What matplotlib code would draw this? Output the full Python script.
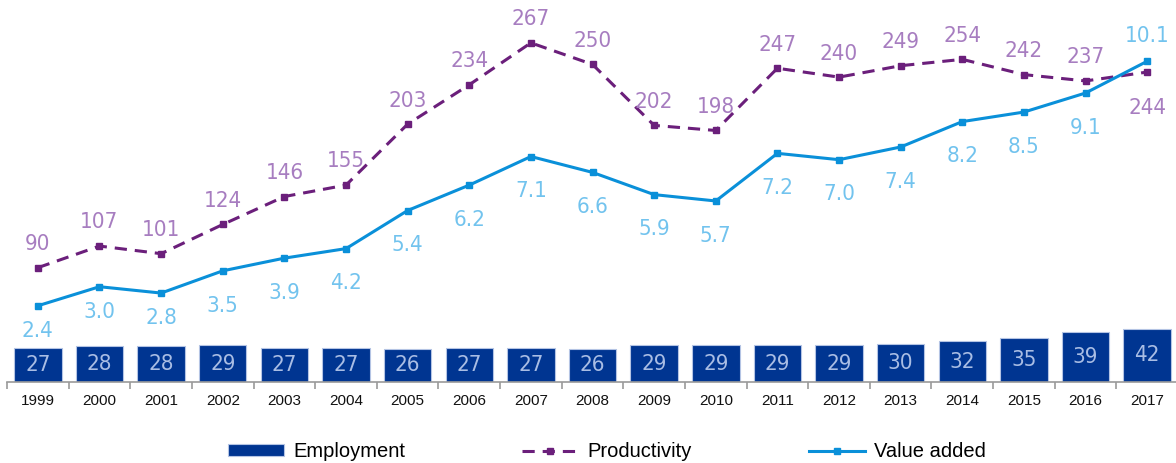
import matplotlib
matplotlib.use("Agg")
import matplotlib.pyplot as plt
import numpy as np

# Employment (bars), productivity (dashed line), value added (solid line, right scale)
years = ["1999", "2000", "2001", "2002", "2003", "2004", "2005", "2006", "2007", "2008",
         "2009", "2010", "2011", "2012", "2013", "2014", "2015", "2016", "2017"]
employment = [27, 28, 28, 29, 27, 27, 26, 27, 27, 26, 29, 29, 29, 29, 30, 32, 35, 39, 42]
productivity = [90, 107, 101, 124, 146, 155, 203, 234, 267, 250, 202, 198, 247, 240, 249,
                254, 242, 237, 244]
value_added = [2.4, 3.0, 2.8, 3.5, 3.9, 4.2, 5.4, 6.2, 7.1, 6.6, 5.9, 5.7, 7.2, 7.0, 7.4,
               8.2, 8.5, 9.1, 10.1]

plt.rcParams["font.family"] = ["Liberation Sans", "DejaVu Sans"]
lbl = dict(family="DejaVu Sans", fontstretch="condensed", fontsize=16)

fig = plt.figure(figsize=(11.76, 4.63), dpi=100)
ax = fig.add_axes([0.006, 0.175, 0.9957, 0.823])
ax2 = ax.twinx()

x = np.arange(len(years))

bars = ax.bar(x, employment, width=0.77, color="#003591", edgecolor="#b4c4e4",
              linewidth=0.8, zorder=2)
ax.bar_label(bars, labels=[str(v) for v in employment], label_type="center",
             color="#a9bde4", **lbl)

prod_line, = ax.plot(x, productivity, color="#6b1f7b", linewidth=2.2,
                     linestyle=(0, (4, 2.6)), marker="s", markersize=5, zorder=3)
for i, v in enumerate(productivity):
    dy = -26 if i == len(productivity) - 1 else 17
    ax.annotate(str(v), (i, v), xytext=(0, dy), textcoords="offset points",
                ha="center", va="center", color="#a77dc0", **lbl)

va_line, = ax2.plot(x, value_added, color="#0a90d9", linewidth=2.2, marker="s",
                    markersize=5, zorder=3)
for i, v in enumerate(value_added):
    if i == len(value_added) - 1:
        dy = 18
    elif i < 3:
        dy = -18
    else:
        dy = -25
    ax2.annotate(f"{v:.1f}", (i, v), xytext=(0, dy), textcoords="offset points",
                 ha="center", va="center", color="#72c3ee", **lbl)

ax.set_xlim(-0.5, len(years) - 0.5)
ax.set_ylim(0, 300)
ax2.set_ylim(0, 12)

for a in (ax, ax2):
    for s in ("top", "left", "right"):
        a.spines[s].set_visible(False)
    a.set_yticks([])
ax2.spines["bottom"].set_visible(False)
ax.spines["bottom"].set_color("#9a9a9a")
ax.spines["bottom"].set_linewidth(1.2)

ax.set_xticks(x)
ax.set_xticklabels(years, fontsize=11, color="#111111")
ax.tick_params(axis="x", which="major", length=0, pad=9)
ax.set_xticks(np.arange(-0.5, len(years), 1), minor=True)
ax.tick_params(axis="x", which="minor", length=5, color="#9a9a9a", width=1.2)

fig.legend([bars, prod_line, va_line], ["Employment", "Productivity", "Value added"],
           loc="center", bbox_to_anchor=(0.516, 0.024), ncol=3,
           frameon=False, fontsize=14.5, handlelength=2.8, handleheight=0.5,
           handletextpad=0.45, columnspacing=5.8)

fig.savefig("out.png", dpi=100)
